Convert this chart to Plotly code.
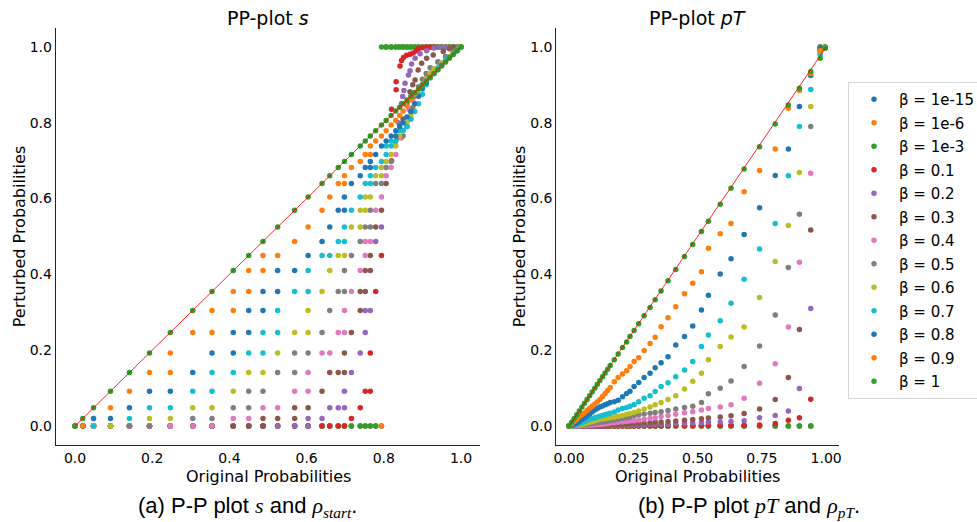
import plotly.graph_objects as go

# ---------------- series meta ----------------
NAMES = ["β = 1e-15", "β = 1e-6", "β = 1e-3", "β = 0.1", "β = 0.2", "β = 0.3", "β = 0.4",
         "β = 0.5", "β = 0.6", "β = 0.7", "β = 0.8", "β = 0.9", "β = 1"]
COLORS = ["#1f77b4", "#ff7f0e", "#2ca02c", "#d62728", "#9467bd", "#8c564b", "#e377c2",
          "#7f7f7f", "#bcbd22", "#17becf", "#1f77b4", "#ff7f0e", "#2ca02c"]

# ---------------- left plot (s) : probability levels ----------------
LV = [0.0, 0.02, 0.048, 0.092, 0.141, 0.193, 0.247, 0.305, 0.355, 0.41, 0.45, 0.487, 0.525,
      0.569, 0.604, 0.64, 0.66, 0.682, 0.698, 0.716, 0.739, 0.752, 0.765, 0.779, 0.794, 0.806,
      0.819, 0.831, 0.841, 0.85, 0.86, 0.87, 0.88, 0.89, 0.90, 0.91, 0.92, 0.93, 0.94, 0.95,
      0.96, 0.97, 0.98, 0.99, 1.0]

# level-index pairs: original level (x) and perturbed level (y)
L_B15_XI = [0, 1, 2, 3, 4, 5, 6, 7, 8, 9, 10, 11, 12, 13, 14, 15, 16, 17, 18, 19, 20, 21, 22, 23, 24,
            25, 26, 27, 28, 29, 30, 31, 32, 33, 34, 35, 36, 37, 38, 39, 40, 41, 42, 43, 44]
L_B15_YI = [0, 0, 0, 0, 0, 0, 0, 0, 0, 0, 0, 0, 0, 0, 0, 0, 0, 0, 0, 0, 0, 0, 0, 0, 0,
            44, 44, 44, 44, 44, 44, 44, 44, 44, 44, 44, 44, 44, 44, 44, 44, 44, 44, 44, 44]
L_E6_XI = [0, 1, 2, 3, 4, 5, 6, 7, 8, 9, 10, 11, 12, 13, 14, 15, 16, 17, 18, 19, 20, 21, 22, 23, 24,
           25, 26, 27, 28, 29, 30, 31, 32, 33, 34, 35, 36, 37, 38, 39, 40, 41, 42, 43, 44]
L_E6_YI = [0, 0, 0, 0, 0, 0, 0, 0, 0, 0, 0, 0, 0, 0, 0, 0, 0, 0, 0, 0, 0, 0, 0, 0, 0,
           44, 44, 44, 44, 44, 44, 44, 44, 44, 44, 44, 44, 44, 44, 44, 44, 44, 44, 44, 44]
L_E3_XI = [0, 1, 2, 3, 4, 5, 6, 7, 8, 9, 10, 11, 12, 13, 14, 15, 16, 17, 18, 19, 20, 21, 22, 23,
           24, 25, 26, 27, 28, 29, 30, 31, 32, 33, 34, 35, 36, 37, 38, 39, 40, 41, 42, 43, 44]
L_E3_YI = [0, 0, 0, 0, 0, 0, 0, 0, 0, 0, 0, 0, 0, 0, 0, 0, 0, 0, 0, 0, 0, 0, 0, 0,
           44, 44, 44, 44, 44, 44, 44, 44, 44, 44, 44, 44, 44, 44, 44, 44, 44, 44, 44, 44, 44]
L_R1_XI = [0, 1, 2, 3, 4, 5, 6, 7, 8, 9, 10, 11, 12, 13, 14, 15, 16, 17, 18, 19, 20, 21, 22, 22, 23, 24]
L_R1_YI = [0, 0, 0, 0, 0, 0, 0, 0, 0, 0, 0, 0, 0, 0, 0, 0, 0, 0, 0, 1, 2, 3, 3, 5, 8, 10]
L_R2_XI = [0, 1, 2, 3, 4, 5, 6, 7, 8, 9, 10, 11, 12, 13, 14, 14, 15, 16, 17, 18, 18, 19, 20, 21, 21, 22, 23, 24]
L_R2_YI = [0, 0, 0, 0, 0, 0, 0, 0, 0, 0, 0, 0, 0, 0, 0, 1, 1, 2, 2, 2, 3, 4, 5, 6, 7, 7, 11, 12]
L_R3_XI = [0, 1, 2, 3, 4, 5, 6, 7, 8, 9, 10, 11, 11, 12, 13, 13, 14, 15, 16, 17, 18, 18, 19, 20, 20, 21,
           21, 22, 22, 23, 24, 25]
L_R3_YI = [0, 0, 0, 0, 0, 0, 0, 0, 0, 0, 0, 0, 1, 1, 1, 2, 2, 3, 4, 4, 4, 5, 6, 7, 8, 8,
           9, 9, 10, 12, 13, 15]
L_R4_XI = [0, 1, 2, 3, 4, 5, 6, 7, 8, 9, 10, 11, 12, 13, 14, 14, 15, 16, 17, 18, 18, 19, 20, 21, 21,
           22, 23, 24, 25, 26, 27]
L_R4_YI = [0, 0, 0, 0, 0, 0, 0, 0, 0, 1, 1, 2, 2, 3, 3, 4, 5, 5, 6, 6, 7, 8, 9, 10, 11,
           11, 13, 14, 16, 17, 19]
L_R5_XI = [0, 1, 2, 3, 4, 5, 7, 8, 9, 10, 10, 11, 12, 13, 13, 14, 15, 16, 17, 18, 18, 19, 20, 21, 22,
           22, 23, 24, 25, 26, 29]
L_R5_YI = [0, 0, 0, 0, 0, 0, 1, 1, 2, 2, 3, 3, 4, 4, 5, 5, 6, 7, 8, 8, 9, 10, 11, 12, 12,
           13, 15, 15, 17, 18, 22]
L_R6_XI = [0, 1, 2, 3, 5, 6, 7, 8, 9, 10, 11, 12, 13, 14, 14, 15, 16, 17, 18, 19, 20, 20, 21, 21, 22,
           23, 24, 24, 25, 26, 27, 28, 29]
L_R6_YI = [0, 0, 0, 0, 1, 1, 2, 2, 3, 4, 4, 5, 6, 6, 7, 8, 9, 10, 10, 12, 12, 13, 13, 14, 14,
           16, 16, 17, 18, 19, 20, 22, 23]
L_R7_XI = [0, 1, 2, 4, 5, 6, 7, 8, 8, 9, 10, 11, 11, 12, 12, 13, 14, 14, 15, 16, 17, 18, 18, 19, 20,
           21, 22, 22, 23, 24, 25, 25, 26, 26, 27, 28]
L_R7_YI = [0, 0, 0, 1, 2, 2, 3, 3, 4, 4, 5, 5, 6, 6, 7, 8, 8, 9, 10, 10, 11, 11, 12, 13, 14,
           15, 15, 16, 17, 18, 19, 20, 20, 21, 21, 23]
L_R8_XI = [0, 1, 2, 3, 4, 5, 6, 7, 8, 9, 9, 10, 10, 11, 11, 12, 12, 13, 14, 15, 16, 17, 18, 18, 19,
           20, 21, 22, 22, 23, 24, 25, 26, 27, 27]
L_R8_YI = [0, 0, 1, 1, 2, 3, 3, 4, 5, 5, 6, 6, 7, 7, 8, 8, 9, 9, 10, 11, 12, 13, 13, 14, 15,
           16, 17, 17, 18, 19, 20, 21, 22, 22, 23]
L_R9_XI = [0, 1, 3, 4, 5, 6, 6, 7, 8, 8, 9, 9, 10, 10, 11, 11, 12, 13, 14, 15, 16, 17, 18, 18, 19,
           20, 21, 22, 22, 23, 24, 25]
L_R9_YI = [0, 0, 2, 3, 4, 4, 5, 6, 6, 7, 7, 8, 8, 9, 9, 10, 10, 11, 12, 13, 14, 15, 15, 16, 17,
           18, 19, 19, 20, 21, 22, 23]
L_ONE_XI = [0, 1, 2, 3, 4, 5, 6, 7, 8, 9, 10, 11, 12, 13, 14, 15, 16, 17, 18, 19, 20, 21, 22, 23, 24,
            25, 26, 27, 28, 29, 30, 31, 32, 33, 34, 35, 36, 37, 38, 39, 40, 41, 42, 43, 44]
L_ONE_YI = [0, 1, 2, 3, 4, 5, 6, 7, 8, 9, 10, 11, 12, 13, 14, 15, 16, 17, 18, 19, 20, 21, 22, 23, 24,
            25, 26, 27, 28, 29, 30, 31, 32, 33, 34, 35, 36, 37, 38, 39, 40, 41, 42, 43, 44]

# upper-right curved part of the left plot (direct values)
U_R1_X = [0.820, 0.832, 0.832, 0.842, 0.846, 0.851, 0.859, 0.868, 0.876, 0.884, 0.89, 0.90, 0.91, 0.92, 0.93]
U_R1_Y = [0.836, 0.887, 0.908, 0.950, 0.964, 0.972, 0.978, 0.981, 0.984, 0.990, 0.995, 0.998, 1.0, 1.0, 1.0]
U_R2_X = [0.830, 0.838, 0.846, 0.849, 0.852, 0.855, 0.864, 0.868, 0.872, 0.881, 0.894, 0.911, 0.93, 0.946, 0.96]
U_R2_Y = [0.75, 0.80, 0.851, 0.869, 0.885, 0.904, 0.926, 0.937, 0.955, 0.970, 0.982, 0.990, 0.997, 1.0, 1.0]
U_R3_X = [0.820, 0.835, 0.850, 0.860, 0.868, 0.875, 0.881, 0.889, 0.898, 0.911, 0.928, 0.954, 0.97, 0.98]
U_R3_Y = [0.70, 0.76, 0.81, 0.85, 0.882, 0.90, 0.913, 0.939, 0.957, 0.970, 0.979, 0.988, 0.995, 1.0]
U_R4_X = [0.845, 0.855, 0.865, 0.875, 0.885, 0.898, 0.911, 0.924, 0.941, 0.963, 0.984, 0.995]
U_R4_Y = [0.76, 0.80, 0.835, 0.86, 0.875, 0.891, 0.922, 0.944, 0.961, 0.974, 0.988, 1.0]
U_R5_X = [0.86, 0.87, 0.875, 0.88, 0.89, 0.90, 0.91, 0.92, 0.94, 0.96, 0.98, 0.995]
U_R5_Y = [0.79, 0.81, 0.84, 0.87, 0.895, 0.915, 0.93, 0.945, 0.96, 0.975, 0.988, 0.998]
U_R6_X = [0.86, 0.87, 0.88, 0.89, 0.90, 0.91, 0.92, 0.93, 0.95, 0.97, 0.99]
U_R6_Y = [0.80, 0.82, 0.85, 0.875, 0.90, 0.915, 0.93, 0.942, 0.958, 0.975, 0.992]
U_R7_X = [0.85, 0.86, 0.87, 0.88, 0.89, 0.90, 0.91, 0.92, 0.94, 0.96, 0.98, 0.995]
U_R7_Y = [0.78, 0.79, 0.81, 0.83, 0.85, 0.875, 0.90, 0.918, 0.945, 0.965, 0.983, 0.997]
U_R8_X = [0.841, 0.85, 0.86, 0.87, 0.88, 0.89, 0.90, 0.91, 0.93, 0.95, 0.97, 0.99]
U_R8_Y = [0.79, 0.80, 0.815, 0.83, 0.85, 0.87, 0.89, 0.905, 0.93, 0.952, 0.972, 0.99]
U_R9_X = [0.819, 0.831, 0.841, 0.85, 0.86, 0.87, 0.88, 0.89, 0.90, 0.92, 0.94, 0.96, 0.98, 1.0]
U_R9_Y = [0.794, 0.806, 0.819, 0.831, 0.845, 0.86, 0.875, 0.888, 0.90, 0.92, 0.94, 0.961, 0.981, 1.0]

# ---------------- right plot (pT) ----------------
XR = [0.000, 0.010, 0.020, 0.030, 0.040, 0.050, 0.060, 0.070, 0.080, 0.090, 0.100, 0.110, 0.120,
      0.130, 0.140, 0.150, 0.160, 0.176, 0.191, 0.208, 0.224, 0.237, 0.253, 0.271, 0.292, 0.315,
      0.335, 0.358, 0.385, 0.415, 0.449, 0.481, 0.515, 0.542, 0.588, 0.630, 0.681, 0.741, 0.802,
      0.853, 0.896, 0.940, 0.977, 0.996]
R_B15 = [0, 0, 0, 0, 0, 0, 0, 0, 0, 0, 0, 0, 0, 0, 0, 0, 0, 0, 0, 0, 0, 0, 0, 0, 0, 0, 0, 0, 0,
         0, 0, 0, 0, 0, 0, 0, 0, 0, 0, 0, 0, 0, 1.0, 1.0]
R_E6 = [0, 0, 0, 0, 0, 0, 0, 0, 0, 0, 0, 0, 0, 0, 0, 0, 0, 0, 0, 0, 0, 0, 0, 0, 0, 0, 0, 0, 0,
        0, 0, 0, 0, 0, 0, 0, 0, 0, 0, 0, 0, 0, 1.0, 1.0]
R_E3 = [0, 0, 0, 0, 0, 0, 0, 0, 0, 0, 0, 0, 0, 0, 0, 0, 0, 0, 0, 0, 0, 0, 0, 0, 0, 0, 0, 0, 0,
        0, 0, 0, 0, 0, 0, 0, 0, 0, 0, 0, 0, 0, 1.0, 1.0]
R_R1 = [0, 0, 0, 0, 0, 0, 0, 0, 0, 0, 0, 0, 0, 0, 0, 0, 0, 0, 0, 0, 0, 0, 0, 0, 0, 0.001, 0.001,
        0.001, 0.001, 0.001, 0.001, 0.001, 0.002, 0.002, 0.002, 0.002, 0.002, 0.003, 0.007, 0.015,
        0.022, 0.071, 0.995, 0.997]
R_R2 = [0, 0, 0, 0, 0, 0, 0, 0, 0, 0, 0.001, 0.001, 0.001, 0.001, 0.001, 0.001, 0.001, 0.002,
        0.002, 0.002, 0.002, 0.002, 0.003, 0.003, 0.003, 0.004, 0.004, 0.005, 0.005, 0.006, 0.007,
        0.008, 0.009, 0.010, 0.011, 0.012, 0.014, 0.022, 0.028, 0.040, 0.099, 0.310, 0.992, 0.997]
R_R3 = [0, 0, 0, 0, 0, 0, 0, 0.001, 0.001, 0.001, 0.001, 0.002, 0.002, 0.002, 0.003, 0.003, 0.003,
        0.004, 0.004, 0.005, 0.005, 0.006, 0.006, 0.007, 0.008, 0.009, 0.010, 0.011, 0.012, 0.013,
        0.015, 0.017, 0.019, 0.021, 0.024, 0.027, 0.033, 0.045, 0.070, 0.128, 0.255, 0.517, 0.99, 0.997]
R_R4 = [0, 0, 0, 0, 0, 0.001, 0.001, 0.002, 0.002, 0.003, 0.003, 0.004, 0.004, 0.005, 0.006, 0.007,
        0.008, 0.009, 0.010, 0.011, 0.012, 0.013, 0.014, 0.016, 0.018, 0.020, 0.022, 0.025, 0.028,
        0.031, 0.035, 0.038, 0.042, 0.046, 0.050, 0.056, 0.073, 0.113, 0.164, 0.261, 0.432, 0.667,
        0.99, 0.997]
R_R5 = [0, 0, 0, 0.001, 0.002, 0.003, 0.004, 0.005, 0.006, 0.007, 0.008, 0.009, 0.010, 0.011, 0.012,
        0.013, 0.014, 0.016, 0.018, 0.020, 0.022, 0.024, 0.027, 0.030, 0.032, 0.034, 0.036, 0.038,
        0.041, 0.045, 0.049, 0.052, 0.062, 0.085, 0.100, 0.119, 0.157, 0.211, 0.293, 0.418, 0.559,
        0.790, 0.99, 0.997]
R_R6 = [0, 0, 0.001, 0.002, 0.003, 0.004, 0.006, 0.008, 0.010, 0.012, 0.014, 0.016, 0.018, 0.019,
        0.020, 0.021, 0.022, 0.024, 0.026, 0.028, 0.031, 0.033, 0.036, 0.040, 0.045, 0.050, 0.056,
        0.062, 0.070, 0.080, 0.098, 0.118, 0.139, 0.175, 0.210, 0.235, 0.261, 0.339, 0.434, 0.529,
        0.669, 0.843, 0.985, 0.997]
R_R7 = [0, 0.001, 0.002, 0.004, 0.006, 0.009, 0.012, 0.015, 0.018, 0.020, 0.022, 0.024, 0.026, 0.028,
        0.030, 0.032, 0.034, 0.037, 0.042, 0.046, 0.049, 0.052, 0.057, 0.064, 0.073, 0.080, 0.091,
        0.104, 0.114, 0.130, 0.148, 0.170, 0.210, 0.240, 0.278, 0.324, 0.387, 0.467, 0.534, 0.660,
        0.790, 0.888, 0.981, 0.997]
R_R8 = [0, 0.002, 0.005, 0.008, 0.012, 0.017, 0.022, 0.027, 0.032, 0.037, 0.042, 0.046, 0.050, 0.053,
        0.056, 0.059, 0.062, 0.064, 0.068, 0.077, 0.086, 0.092, 0.104, 0.115, 0.128, 0.139, 0.154,
        0.167, 0.183, 0.214, 0.236, 0.264, 0.306, 0.345, 0.401, 0.441, 0.505, 0.576, 0.661, 0.731,
        0.843, 0.925, 0.995, 0.997]
R_R9 = [0, 0.006, 0.012, 0.018, 0.025, 0.030, 0.035, 0.041, 0.047, 0.052, 0.058, 0.064, 0.070, 0.078,
        0.086, 0.094, 0.102, 0.117, 0.128, 0.137, 0.146, 0.157, 0.170, 0.180, 0.199, 0.218, 0.234,
        0.262, 0.286, 0.315, 0.349, 0.377, 0.407, 0.469, 0.507, 0.534, 0.618, 0.674, 0.731, 0.838,
        0.885, 0.930, 0.990, 0.997]
R_ONE = [0, 0.010, 0.020, 0.030, 0.040, 0.050, 0.060, 0.070, 0.080, 0.090, 0.100, 0.110, 0.120, 0.130,
         0.140, 0.150, 0.160, 0.175, 0.190, 0.207, 0.222, 0.236, 0.252, 0.270, 0.291, 0.313, 0.333,
         0.356, 0.383, 0.413, 0.447, 0.479, 0.513, 0.540, 0.585, 0.627, 0.678, 0.737, 0.797, 0.847,
         0.891, 0.935, 0.970, 0.997]

LEFT_GRID = [(L_B15_XI, L_B15_YI), (L_E6_XI, L_E6_YI), (L_E3_XI, L_E3_YI), (L_R1_XI, L_R1_YI),
             (L_R2_XI, L_R2_YI), (L_R3_XI, L_R3_YI), (L_R4_XI, L_R4_YI), (L_R5_XI, L_R5_YI),
             (L_R6_XI, L_R6_YI), (L_R7_XI, L_R7_YI), (L_R8_XI, L_R8_YI), (L_R9_XI, L_R9_YI),
             (L_ONE_XI, L_ONE_YI)]
LEFT_UPPER = [([], []), ([], []), ([], []), (U_R1_X, U_R1_Y), (U_R2_X, U_R2_Y), (U_R3_X, U_R3_Y),
              (U_R4_X, U_R4_Y), (U_R5_X, U_R5_Y), (U_R6_X, U_R6_Y), (U_R7_X, U_R7_Y),
              (U_R8_X, U_R8_Y), (U_R9_X, U_R9_Y), ([], [])]
RIGHT_Y = [R_B15, R_E6, R_E3, R_R1, R_R2, R_R3, R_R4, R_R5, R_R6, R_R7, R_R8, R_R9, R_ONE]

MSIZE = 5.5
fig = go.Figure()
for k, name in enumerate(NAMES):
    xi, yi = LEFT_GRID[k]
    ux, uy = LEFT_UPPER[k]
    xs = [LV[i] for i in xi] + list(ux)
    ys = [LV[j] for j in yi] + list(uy)
    fig.add_trace(go.Scatter(x=xs, y=ys, mode="markers", name=name, legendgroup=name,
                             showlegend=False, xaxis="x", yaxis="y",
                             marker=dict(color=COLORS[k], size=MSIZE, line=dict(width=0))))
for k, name in enumerate(NAMES):
    fig.add_trace(go.Scatter(x=XR, y=RIGHT_Y[k], mode="markers", name=name, legendgroup=name,
                             showlegend=True, xaxis="x2", yaxis="y2",
                             marker=dict(color=COLORS[k], size=MSIZE, line=dict(width=0))))
for ax in (("x", "y"), ("x2", "y2")):
    fig.add_trace(go.Scatter(x=[0, 1], y=[0, 1], mode="lines", showlegend=False, hoverinfo="skip",
                             xaxis=ax[0], yaxis=ax[1],
                             line=dict(color="rgba(255,0,0,0.85)", width=1)))

W, H = 977, 522
FONT = "DejaVu Sans"
TITLE_FONT = dict(family=FONT, size=16, color="black")
axis_common = dict(showline=True, linecolor="#222", linewidth=1, ticks="", showgrid=False,
                   zeroline=False, tickfont=dict(family=FONT, size=14, color="black"),
                   range=[-0.05, 1.05])
ytick = dict(tickvals=[0, 0.2, 0.4, 0.6, 0.8, 1.0], ticktext=["0.0", "0.2", "0.4", "0.6", "0.8", "1.0"])
ydom = [77 / H, 494 / H]
fig.update_layout(
    width=W, height=H, paper_bgcolor="white", plot_bgcolor="white",
    margin=dict(l=0, r=0, t=0, b=0, autoexpand=False),
    xaxis=dict(domain=[55.7 / W, 480.3 / W], anchor="y",
               tickvals=[0, 0.2, 0.4, 0.6, 0.8, 1.0], ticktext=["0.0", "0.2", "0.4", "0.6", "0.8", "1.0"],
               **axis_common),
    yaxis=dict(domain=ydom, anchor="x",
               title=dict(text="Perturbed Probabilities", font=TITLE_FONT, standoff=0), **ytick, **axis_common),
    xaxis2=dict(domain=[556.2 / W, 839 / W], anchor="y2",
                tickvals=[0, 0.25, 0.5, 0.75, 1.0], ticktext=["0.00", "0.25", "0.50", "0.75", "1.00"],
                **axis_common),
    yaxis2=dict(domain=ydom, anchor="x2",
                title=dict(text="Perturbed Probabilities", font=TITLE_FONT, standoff=0), **ytick, **axis_common),
    legend=dict(x=848 / W, y=(H - 82) / H, xanchor="left", yanchor="top",
                bgcolor="white", bordercolor="#d8d8d8", borderwidth=1,
                font=dict(family=FONT, size=15, color="black"), tracegroupgap=1, itemwidth=40),
    showlegend=True,
)
# x-axis titles placed just below the tick labels, as in the reference
for cx in (268 / W, 697.5 / W):
    fig.add_annotation(x=cx, y=(H - 476) / H, xref="paper", yref="paper", showarrow=False,
                       xanchor="center", yanchor="middle",
                       text="Original Probabilities", font=TITLE_FONT)
fig.add_annotation(x=268 / W, y=(H - 18) / H, xref="paper", yref="paper", showarrow=False,
                   xanchor="center", yanchor="middle",
                   text="PP-plot <i>s</i>", font=dict(family=FONT, size=19, color="black"))
fig.add_annotation(x=697.5 / W, y=(H - 18) / H, xref="paper", yref="paper", showarrow=False,
                   xanchor="center", yanchor="middle",
                   text="PP-plot <i>pT</i>", font=dict(family=FONT, size=19, color="black"))
CAP = "Liberation Sans, Arial"
fig.add_annotation(x=248 / W, y=(H - 507) / H, xref="paper", yref="paper", showarrow=False,
                   xanchor="center", yanchor="middle",
                   text="(a) P-P plot <span style='font-family:Liberation Serif'><i>s</i></span> and "
                        "<span style='font-family:Liberation Serif'><i>ρ<sub>start</sub></i></span>.",
                   font=dict(family=CAP, size=22, color="black"))
fig.add_annotation(x=749 / W, y=(H - 507) / H, xref="paper", yref="paper", showarrow=False,
                   xanchor="center", yanchor="middle",
                   text="(b) P-P plot <span style='font-family:Liberation Serif'><i>pT</i></span> and "
                        "<span style='font-family:Liberation Serif'><i>ρ<sub>pT</sub></i></span>.",
                   font=dict(family=CAP, size=22, color="black"))

fig.write_html("out.html", config={"displayModeBar": False},
               post_script="document.body.style.margin='0px';")
